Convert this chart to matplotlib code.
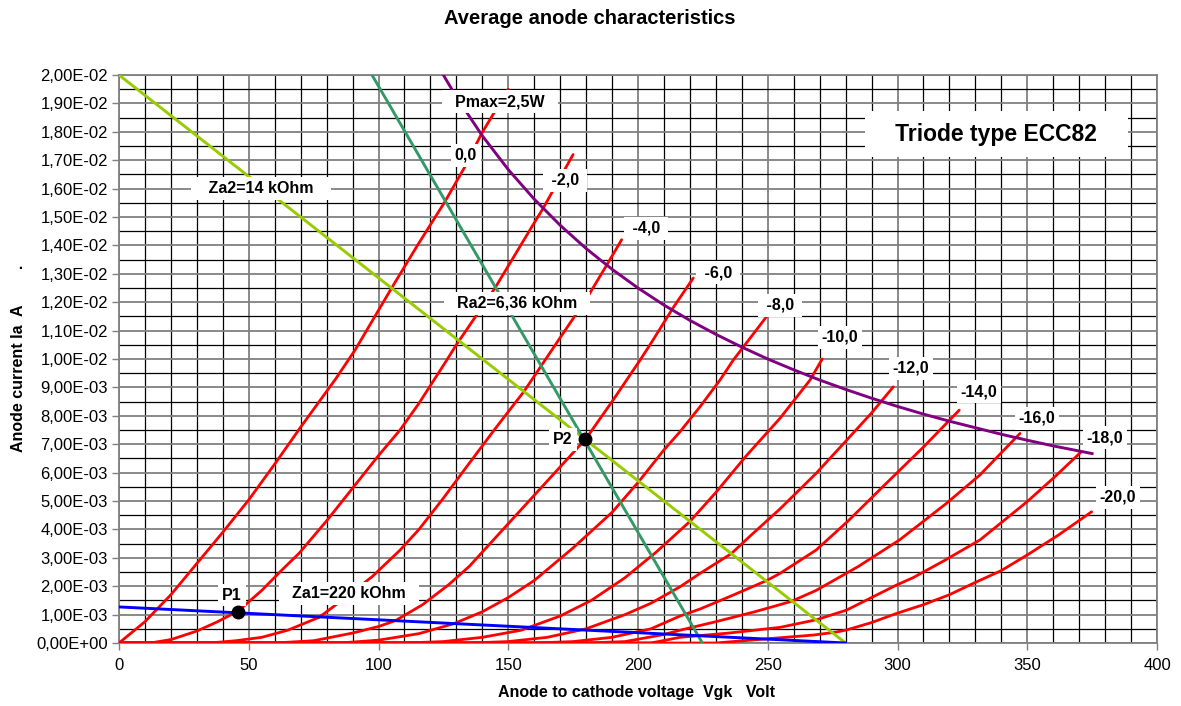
import numpy as np
import matplotlib
matplotlib.use("Agg")
import matplotlib.pyplot as plt
from matplotlib.ticker import MultipleLocator, FuncFormatter

plt.rcParams['font.family'] = ['Liberation Sans', 'DejaVu Sans']

# ---------------- data (anode voltage in V, anode current in mA) ----------------
v_g0 = [0, 10, 20, 30, 40, 50, 60, 70, 83.5, 91, 105, 115, 125.6, 133.3, 139.8, 150]
i_g0 = [0, 0.75, 1.7, 2.8, 3.9, 5.04, 6.3, 7.6, 9.3, 10.32, 12.49, 14.0, 15.54, 16.77, 17.95, 19.5]

v_g2 = [0, 12, 20, 30, 38, 46, 55, 62, 69.4, 80, 90, 100, 108.3, 115.6, 126.3, 130, 144.9, 158.4, 163.4, 175]
i_g2 = [0, 0, 0.12, 0.42, 0.75, 1.13, 1.85, 2.5, 3.16, 4.3, 5.45, 6.6, 7.5, 8.44, 9.96, 10.5, 12.5, 14.55, 15.3, 17.2]

v_g4 = [0, 35, 45, 55, 65, 77, 80, 88, 97.6, 108.3, 115.6, 125, 134, 145, 156, 170, 180, 187.9, 193.7]
i_g4 = [0, 0, 0.08, 0.2, 0.45, 0.9, 1.1, 1.65, 2.34, 3.27, 4.0, 5.1, 6.21, 7.55, 8.85, 10.75, 12.1, 13.3, 14.2]

v_g6 = [0, 60, 75, 90, 100, 106.6, 117, 127, 135, 150, 165, 180, 190, 200.8, 205.8, 213.5, 221.3]
i_g6 = [0, 0, 0.08, 0.35, 0.58, 0.79, 1.35, 2.05, 2.7, 4.2, 5.7, 7.2, 8.5, 9.96, 10.67, 11.8, 12.85]

v_g8 = [0, 85, 100, 115.6, 129, 140, 150, 160, 175, 190, 200, 210, 216.2, 223.9, 231.6, 236.7, 247.6, 250]
i_g8 = [0, 0, 0.1, 0.33, 0.68, 1.1, 1.6, 2.2, 3.35, 4.6, 5.65, 6.8, 7.44, 8.32, 9.26, 9.96, 11.26, 11.55]

v_g10 = [0, 110, 125, 140, 155, 170, 182, 195, 207, 220, 230, 241.8, 254.7, 266.3, 271]
i_g10 = [0, 0, 0.05, 0.2, 0.45, 0.95, 1.5, 2.3, 3.2, 4.28, 5.3, 6.6, 7.91, 9.26, 10.0]

v_g12 = [0, 135, 150, 165, 180, 195, 205, 216.2, 223.9, 236, 242.9, 254.7, 268.6, 280, 290, 298.4]
i_g12 = [0, 0, 0.05, 0.2, 0.5, 1.0, 1.4, 1.98, 2.45, 3.15, 3.74, 4.72, 5.97, 7.1, 8.1, 9.02]

v_g14 = [0, 160, 175, 190, 205, 216.2, 224, 237, 249.6, 254.7, 268.6, 281, 294.3, 310, 323.8]
i_g14 = [0, 0, 0.05, 0.2, 0.5, 0.95, 1.2, 1.7, 2.2, 2.45, 3.27, 4.3, 5.5, 6.9, 8.2]

v_g16 = [0, 180, 195, 210, 216.2, 230, 245, 254.7, 259.2, 268.6, 285, 300.8, 318.9, 331.8, 347.2]
i_g16 = [0, 0, 0.05, 0.3, 0.45, 0.75, 1.1, 1.35, 1.47, 1.85, 2.7, 3.63, 4.92, 5.92, 7.38]

v_g18 = [0, 205, 216.2, 235, 254.7, 268.8, 280.4, 299.6, 306, 318, 331.8, 350, 360, 370.9]
i_g18 = [0, 0, 0.2, 0.35, 0.55, 0.82, 1.16, 2.04, 2.3, 2.9, 3.63, 4.98, 5.8, 6.74]

v_g20 = [0, 230, 250, 267.6, 276, 280.4, 290, 299.6, 310, 320, 329.2, 340, 350, 362, 374.8]
i_g20 = [0, 0, 0.15, 0.28, 0.38, 0.46, 0.72, 1.04, 1.35, 1.7, 2.1, 2.55, 3.1, 3.8, 4.62]

curves_v = [v_g0, v_g2, v_g4, v_g6, v_g8, v_g10, v_g12, v_g14, v_g16, v_g18, v_g20]
curves_i = [i_g0, i_g2, i_g4, i_g6, i_g8, i_g10, i_g12, i_g14, i_g16, i_g18, i_g20]

grid_labels = ["0,0", " -2,0 ", " -4,0 ", " -6,0 ", " -8,0 ", "-10,0", "-12,0", "-14,0", "-16,0", "-18,0", "-20,0"]
grid_label_v = [133.7, 171.9, 203.1, 230.8, 254.7, 277.8, 305.2, 331.4, 353.8, 380.0, 385.0]
grid_label_i = [17.18, 16.3, 14.61, 13.03, 11.9, 10.77, 9.68, 8.84, 7.92, 7.22, 5.14]

# max dissipation hyperbola Pmax = 2,5 W
v_pmax = [125, 130, 140, 150, 160, 170, 180, 190, 200, 210, 220, 230, 240, 250, 260, 270, 280,
          290, 300, 310, 320, 330, 340, 350, 360, 375]
i_pmax = [20.0, 19.23, 17.86, 16.67, 15.63, 14.71, 13.89, 13.16, 12.5, 11.9, 11.36, 10.87, 10.42,
          10.0, 9.62, 9.26, 8.93, 8.62, 8.33, 8.06, 7.81, 7.58, 7.35, 7.14, 6.94, 6.67]

# load lines
v_za2 = [0, 280]
i_za2 = [20, 0]
v_ra2 = [97.5, 224.8]
i_ra2 = [20, 0]
v_za1 = [0, 280]
i_za1 = [1.27, 0]

# operating points
p_names = ["P1", "P2"]
p_v = [46, 179.5]
p_i = [1.1, 7.2]
p_label_v = [43.5, 171.1]
p_label_i = [1.69, 7.15]

# text labels
line_labels = ["  Pmax=2,5W  ", "   Za2=14 kOhm   ", "  Ra2=6,36 kOhm  ", "  Za1=220 kOhm  "]
line_label_v = [146.8, 54.7, 153.4, 88.6]
line_label_i = [19.05, 15.99, 11.97, 1.76]

# ---------------- figure ----------------
W, H = 1181, 706
fig = plt.figure(figsize=(W / 100, H / 100), dpi=100)
ax = fig.add_axes([119 / W, 1 - 643 / H, (1157 - 119) / W, (643 - 75) / H])

mA = 1e-3
red = '#FF0000'
for v, i in zip(curves_v, curves_i):
    ax.plot(v, np.array(i) * mA, color=red, lw=2.0, solid_joinstyle='round',
            solid_capstyle='round', zorder=3)

ax.plot(v_pmax, np.array(i_pmax) * mA, color='#800080', lw=2.1, zorder=3)
ax.plot(v_za2, np.array(i_za2) * mA, color='#99CC00', lw=2.1, zorder=3)
ax.plot(v_ra2, np.array(i_ra2) * mA, color='#339966', lw=2.1, zorder=3)
ax.plot(v_za1, np.array(i_za1) * mA, color='#0000FF', lw=2.1, zorder=3)
ax.plot(p_v, np.array(p_i) * mA, 'o', color='black', ms=9, zorder=7, linestyle='none')

lab_kw = dict(ha='center', va='center', fontsize=11.5, fontweight='bold', zorder=6,
              bbox=dict(boxstyle='square,pad=0.25', fc='white', ec='none'))
for s, v, i in zip(grid_labels, grid_label_v, grid_label_i):
    ax.text(v, i * mA, s, **lab_kw)
for s, v, i in zip(line_labels, line_label_v, line_label_i):
    ax.text(v, i * mA, s, **lab_kw)
for s, v, i in zip(p_names, p_label_v, p_label_i):
    ax.text(v, i * mA, s, **lab_kw)

ax.text(338, 17.92 * mA, "   Triode type ECC82   ", ha='center', va='center', fontsize=16.5,
        fontweight='bold', zorder=6,
        bbox=dict(boxstyle='square,pad=0.5', fc='white', ec='none'))

ax.set_xlim(0, 400)
ax.set_ylim(0, 0.02)
ax.xaxis.set_major_locator(MultipleLocator(50))
ax.xaxis.set_minor_locator(MultipleLocator(10))
ax.yaxis.set_major_locator(MultipleLocator(0.001))
ax.yaxis.set_minor_locator(MultipleLocator(0.0005))
ax.yaxis.set_major_formatter(FuncFormatter(lambda y, p: f"{y:.2E}".replace('.', ',')))

ax.set_axisbelow(True)
ax.grid(which='major', color='#808080', lw=1.3)
ax.grid(which='minor', color='black', lw=0.9)
ax.tick_params(which='major', length=5, width=1, color='#808080', labelsize=12)
ax.tick_params(axis='x', which='major', pad=6)
ax.tick_params(axis='y', which='major', pad=3)
ax.tick_params(which='minor', length=0)
for sp in ax.spines.values():
    sp.set_color('#808080')
    sp.set_linewidth(1.3)

fig.text(589.5 / W, 1 - 18 / H, "Average anode characteristics", ha='center', va='center',
         fontsize=14.5, fontweight='bold')
fig.text(637 / W, 1 - 693 / H, "Anode to cathode voltage  Vgk   Volt", ha='center', va='center',
         fontsize=11.5, fontweight='bold')
fig.text(19 / W, 1 - 358 / H, "Anode current Ia  A        .", ha='center', va='center',
         rotation=90, fontsize=11.5, fontweight='bold')

fig.savefig("out.png", dpi=100)
